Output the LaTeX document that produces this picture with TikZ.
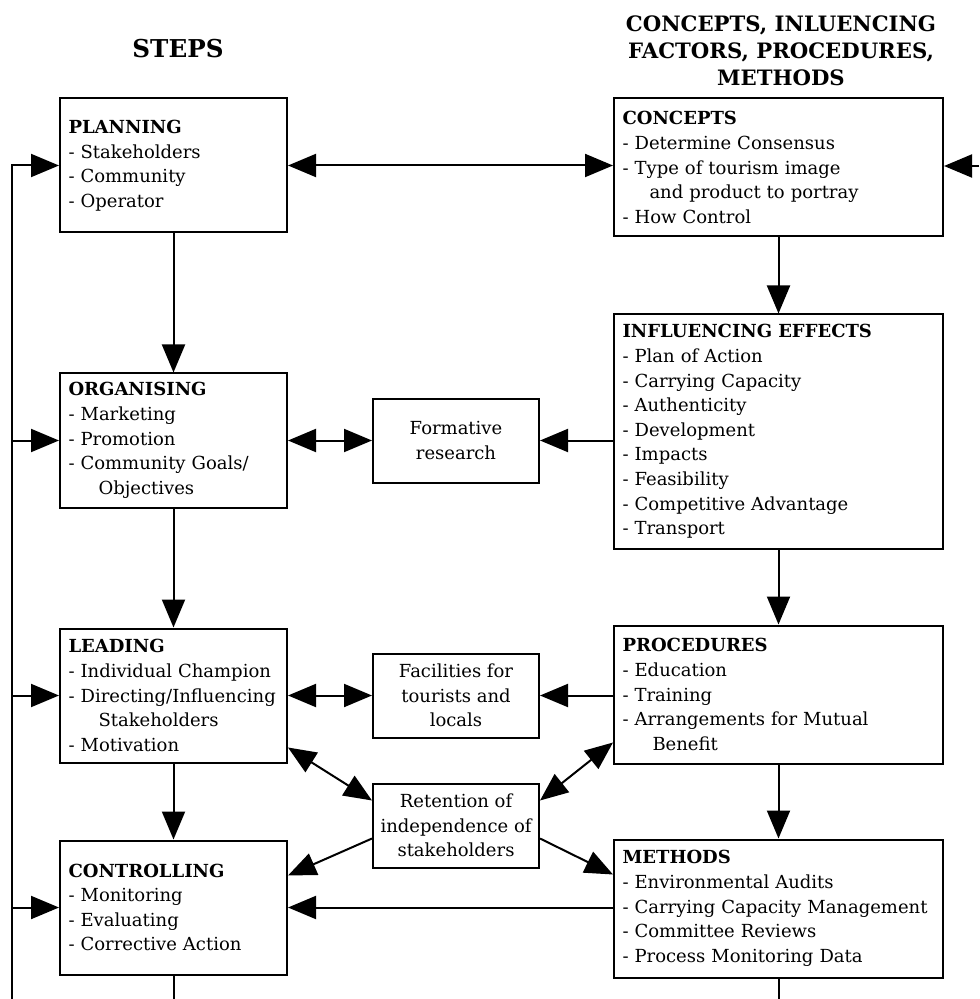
\documentclass[tikz,border=0pt]{standalone}
\usepackage{fontspec}
\setmainfont{DejaVu Serif}
\usetikzlibrary{arrows.meta,positioning}

\begin{document}
\hyphenpenalty=10000\relax
\exhyphenpenalty=10000\relax
\begin{tikzpicture}[x=0.5pt, y=-0.5pt,
  font=\fontsize{9}{12.3}\selectfont,
  stepbox/.style={draw, line width=1pt, text width=105pt, inner xsep=4.25pt,
                  minimum height=67pt, align=left},
  sidebox/.style={draw, line width=1pt, text width=156pt, inner xsep=4.25pt,
                  minimum height=69pt, align=left},
  midbox/.style={draw, line width=1pt, minimum width=83pt, minimum height=42pt,
                 inner xsep=1pt, align=center},
  heading/.style={font=\fontsize{12.3}{13.5}\selectfont\bfseries, align=center},
  arr/.style={-{Triangle[length=14pt, width=11.5pt]}, line width=1pt},
  darr/.style={{Triangle[length=14pt, width=11.5pt]}-{Triangle[length=14pt, width=11.5pt]},
               line width=1pt}
]
\path[fill=white, use as bounding box] (0,0) rectangle (979,999);

% column titles
\node[heading] (stepstitle) at (178,49) {STEPS};
\node[heading, font=\fontsize{10.6}{13.5}\selectfont\bfseries] (sidetitle) at (781,51)
  {CONCEPTS, INLUENCING\\FACTORS, PROCEDURES,\\METHODS};

% steps
\node[stepbox] (plan) at (173.5,165.5)
  {\textbf{PLANNING}\\- Stakeholders\\- Community\\- Operator};
\node[stepbox, below=69.5pt of plan] (org)
  {\textbf{ORGANISING}\\- Marketing\\- Promotion\\- Community Goals/\\\hspace*{15pt}Objectives};
\node[stepbox, below=59.5pt of org] (lead)
  {\textbf{LEADING}\\- Individual Champion\\- Directing/Influencing\\\hspace*{15pt}Stakeholders\\- Motivation};
\node[stepbox, below=38pt of lead] (ctrl)
  {\textbf{CONTROLLING}\\- Monitoring\\- Evaluating\\- Corrective Action};

% concepts, factors, procedures, methods
\node[sidebox] (conc) at (778.5,167.5)
  {\textbf{CONCEPTS}\\- Determine Consensus\\- Type of tourism image\\\hspace*{13.5pt}and product to portray\\- How Control};
\node[sidebox, minimum height=117pt, below=38pt of conc] (infl)
  {\textbf{INFLUENCING EFFECTS}\\- Plan of Action\\- Carrying Capacity\\- Authenticity\\- Development\\- Impacts\\- Feasibility\\- Competitive Advantage\\- Transport};
\node[sidebox, below=37.5pt of infl] (proc)
  {\textbf{PROCEDURES}\\- Education\\- Training\\- Arrangements for Mutual\\\hspace*{15pt}Benefit};
\node[sidebox, below=37pt of proc] (meth)
  {\textbf{METHODS}\\- Environmental Audits\\- Carrying Capacity Management\\- Committee Reviews\\- Process Monitoring Data};

% middle boxes
\node[midbox, right=42pt of org] (form) {Formative\\research};
\node[midbox, right=42pt of lead] (fac) {Facilities for\\tourists and\\locals};
\node[midbox, below=22pt of fac] (ret) {Retention of\\independence of\\stakeholders};

% free ends at the picture edges
\coordinate (loopbot) at (12,999);
\coordinate (loopin) at (979,166);

% connectors
\draw[darr] (plan) -- (plan -| conc.west);
\draw[arr] (loopin) -- (loopin -| conc.east);
\draw[arr] (plan) -- (org);
\draw[arr] (org) -- (lead);
\draw[arr] (lead) -- (ctrl);
\draw[arr] (conc) -- (infl);
\draw[arr] (infl) -- (proc);
\draw[arr] (proc) -- (meth);
\draw[arr] (infl.west |- form) -- (form);
\draw[darr] (form) -- (org);
\draw[arr] (proc.west |- fac) -- (fac);
\draw[darr] (fac) -- (lead);
\draw[darr] ([yshift=8pt]lead.south east) -- ([yshift=-9pt]ret.north west);
\draw[darr] ([yshift=11pt]proc.south west) -- ([yshift=-9pt]ret.north east);
\draw[arr] ([yshift=-6.5pt]ret.west) -- ([yshift=-18pt]ctrl.north east);
\draw[arr] ([yshift=-6.5pt]ret.east) -- ([yshift=-18pt]meth.north west);
\draw[arr] (meth.west |- ctrl) -- (ctrl);

% feedback loop
\draw[arr] (loopbot) |- (plan);
\draw[arr] (loopbot |- org) -- (org);
\draw[arr] (loopbot |- lead) -- (lead);
\draw[arr] (loopbot |- ctrl) -- (ctrl);
\draw[line width=1pt] (ctrl) -- (ctrl |- loopbot);
\draw[line width=1pt] (meth) -- (meth |- loopbot);
\end{tikzpicture}
\end{document}
